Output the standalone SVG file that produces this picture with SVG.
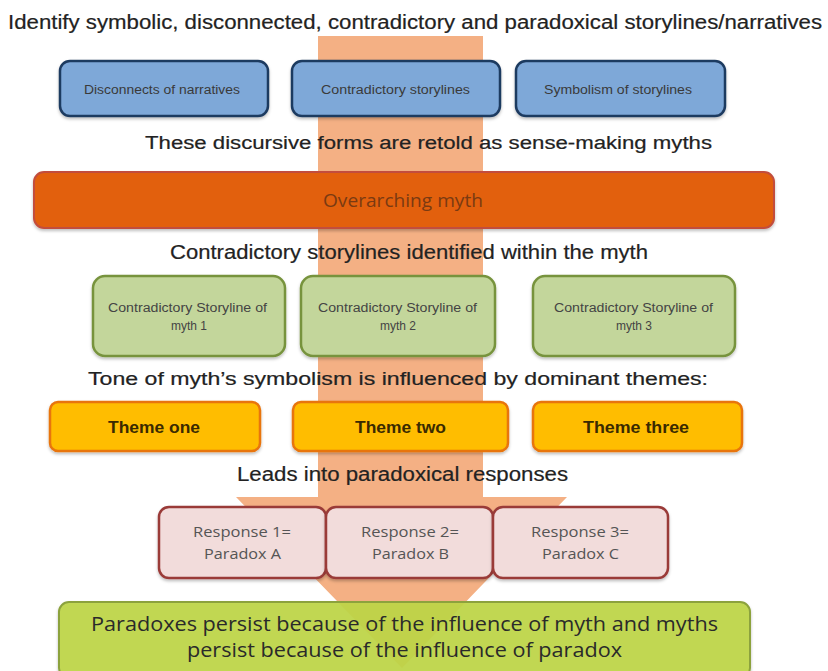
<svg xmlns="http://www.w3.org/2000/svg" width="828" height="671" viewBox="0 0 828 671">
<defs>
<filter id="sh" x="-5%" y="-10%" width="110%" height="130%"><feDropShadow dx="0" dy="2" stdDeviation="1.5" flood-color="#000" flood-opacity="0.25"/></filter>
</defs>
<style>
.hd{font-family:"Liberation Sans",Arial,sans-serif;fill:#222;font-size:18px;stroke:#222;stroke-width:0.2;}
.nar{font-size:20px;}
.blue rect,.orange rect,.green rect,.theme rect,.resp rect,.final rect{filter:url(#sh);}
.blue rect{fill:#7EA8D8;stroke:#1F3A60;stroke-width:2.5;}
.blue text{font-family:"Liberation Sans",Arial,sans-serif;font-size:12px;fill:#3a3a3a;}
.orange rect{fill:#E2600B;stroke:#C24E3C;stroke-width:2;}
.orange text{font-family:"Open Sans","Liberation Sans",sans-serif;font-size:18px;fill:#7A3A12;}
.green rect{fill:#C3D69B;stroke:#77933C;stroke-width:2.5;}
.green text{font-family:"Liberation Sans",Arial,sans-serif;font-size:12px;fill:#444;}
.theme rect{fill:#FFBD00;stroke:#E8740C;stroke-width:2.5;}
.theme text{font-family:"Liberation Sans",Arial,sans-serif;font-size:16px;font-weight:bold;fill:#3A2A00;}
.resp rect{fill:#F2DCDB;stroke:#9A3A38;stroke-width:2.5;}
.resp text{font-family:"Open Sans","Liberation Sans",sans-serif;font-size:14px;fill:#555;}
.final rect{fill:#BFD648;stroke:#8CA23C;stroke-width:2;}
.final text{font-family:"Open Sans","Liberation Sans",sans-serif;font-size:20px;fill:#2A2A2A;}
</style>
<rect width="828" height="671" fill="#ffffff"/>
<g id="connectors">
  <path d="M318,36 H483 V497 H567 L402,668 L236,497 H318 Z" fill="#F4B084"/>
</g>
<text class="hd nar" x="8" y="29" textLength="814" lengthAdjust="spacingAndGlyphs">Identify symbolic, disconnected, contradictory and paradoxical storylines/narratives</text>
<g id="n-disconnects" class="blue"><rect x="60" y="61" width="208" height="55" rx="10"/><text x="84" y="94" textLength="156" lengthAdjust="spacingAndGlyphs">Disconnects of narratives</text></g>
<g id="n-contradictory" class="blue"><rect x="292" y="61" width="208" height="55" rx="10"/><text x="321" y="94" textLength="149" lengthAdjust="spacingAndGlyphs">Contradictory storylines</text></g>
<g id="n-symbolism" class="blue"><rect x="516" y="61" width="209" height="55" rx="10"/><text x="544" y="94" textLength="148" lengthAdjust="spacingAndGlyphs">Symbolism of storylines</text></g>
<text class="hd" x="145" y="149" textLength="567" lengthAdjust="spacingAndGlyphs">These discursive forms are retold as sense-making myths</text>
<g id="n-overarching" class="orange"><rect x="34" y="172" width="740" height="56" rx="10"/><text x="323" y="207" textLength="160" lengthAdjust="spacingAndGlyphs">Overarching myth</text></g>
<text class="hd nar" x="170" y="259" textLength="478" lengthAdjust="spacingAndGlyphs">Contradictory storylines identified within the myth</text>
<g id="n-story1" class="green"><rect x="93" y="276" width="192" height="80" rx="12"/><text x="108" y="312" textLength="159" lengthAdjust="spacingAndGlyphs">Contradictory Storyline of</text><text x="189" y="330" text-anchor="middle">myth 1</text></g>
<g id="n-story2" class="green"><rect x="301" y="276" width="194" height="80" rx="12"/><text x="318" y="312" textLength="159" lengthAdjust="spacingAndGlyphs">Contradictory Storyline of</text><text x="398" y="330" text-anchor="middle">myth 2</text></g>
<g id="n-story3" class="green"><rect x="533" y="276" width="202" height="80" rx="12"/><text x="554" y="312" textLength="159" lengthAdjust="spacingAndGlyphs">Contradictory Storyline of</text><text x="634" y="330" text-anchor="middle">myth 3</text></g>
<text class="hd" x="88" y="385" textLength="620" lengthAdjust="spacingAndGlyphs">Tone of myth’s symbolism is influenced by  dominant themes:</text>
<g id="n-theme1" class="theme"><rect x="50" y="402" width="210" height="49" rx="8"/><text x="108" y="433" textLength="92" lengthAdjust="spacingAndGlyphs">Theme one</text></g>
<g id="n-theme2" class="theme"><rect x="293" y="402" width="215" height="49" rx="8"/><text x="355" y="433" textLength="91" lengthAdjust="spacingAndGlyphs">Theme two</text></g>
<g id="n-theme3" class="theme"><rect x="533" y="402" width="209" height="49" rx="8"/><text x="583" y="433" textLength="106" lengthAdjust="spacingAndGlyphs">Theme three</text></g>
<text class="hd nar" x="237" y="481" textLength="331" lengthAdjust="spacingAndGlyphs">Leads into paradoxical responses</text>
<g id="n-resp1" class="resp"><rect x="159" y="507" width="167" height="71" rx="10"/><text x="193" y="537" textLength="98" lengthAdjust="spacingAndGlyphs">Response 1=</text><text x="204" y="559" textLength="77" lengthAdjust="spacingAndGlyphs">Paradox A</text></g>
<g id="n-resp2" class="resp"><rect x="326" y="507" width="167" height="71" rx="10"/><text x="361" y="537" textLength="98" lengthAdjust="spacingAndGlyphs">Response 2=</text><text x="372" y="559" textLength="77" lengthAdjust="spacingAndGlyphs">Paradox B</text></g>
<g id="n-resp3" class="resp"><rect x="493" y="507" width="175" height="71" rx="10"/><text x="531" y="537" textLength="98" lengthAdjust="spacingAndGlyphs">Response 3=</text><text x="542" y="559" textLength="77" lengthAdjust="spacingAndGlyphs">Paradox C</text></g>
<g id="n-final" class="final"><rect x="59" y="602" width="691" height="76" rx="10" fill-opacity="0.92"/><text x="91" y="631" textLength="627" lengthAdjust="spacingAndGlyphs">Paradoxes persist because of  the influence of myth and myths</text><text x="187" y="657" textLength="435" lengthAdjust="spacingAndGlyphs">persist because of the influence of paradox</text></g>
</svg>
